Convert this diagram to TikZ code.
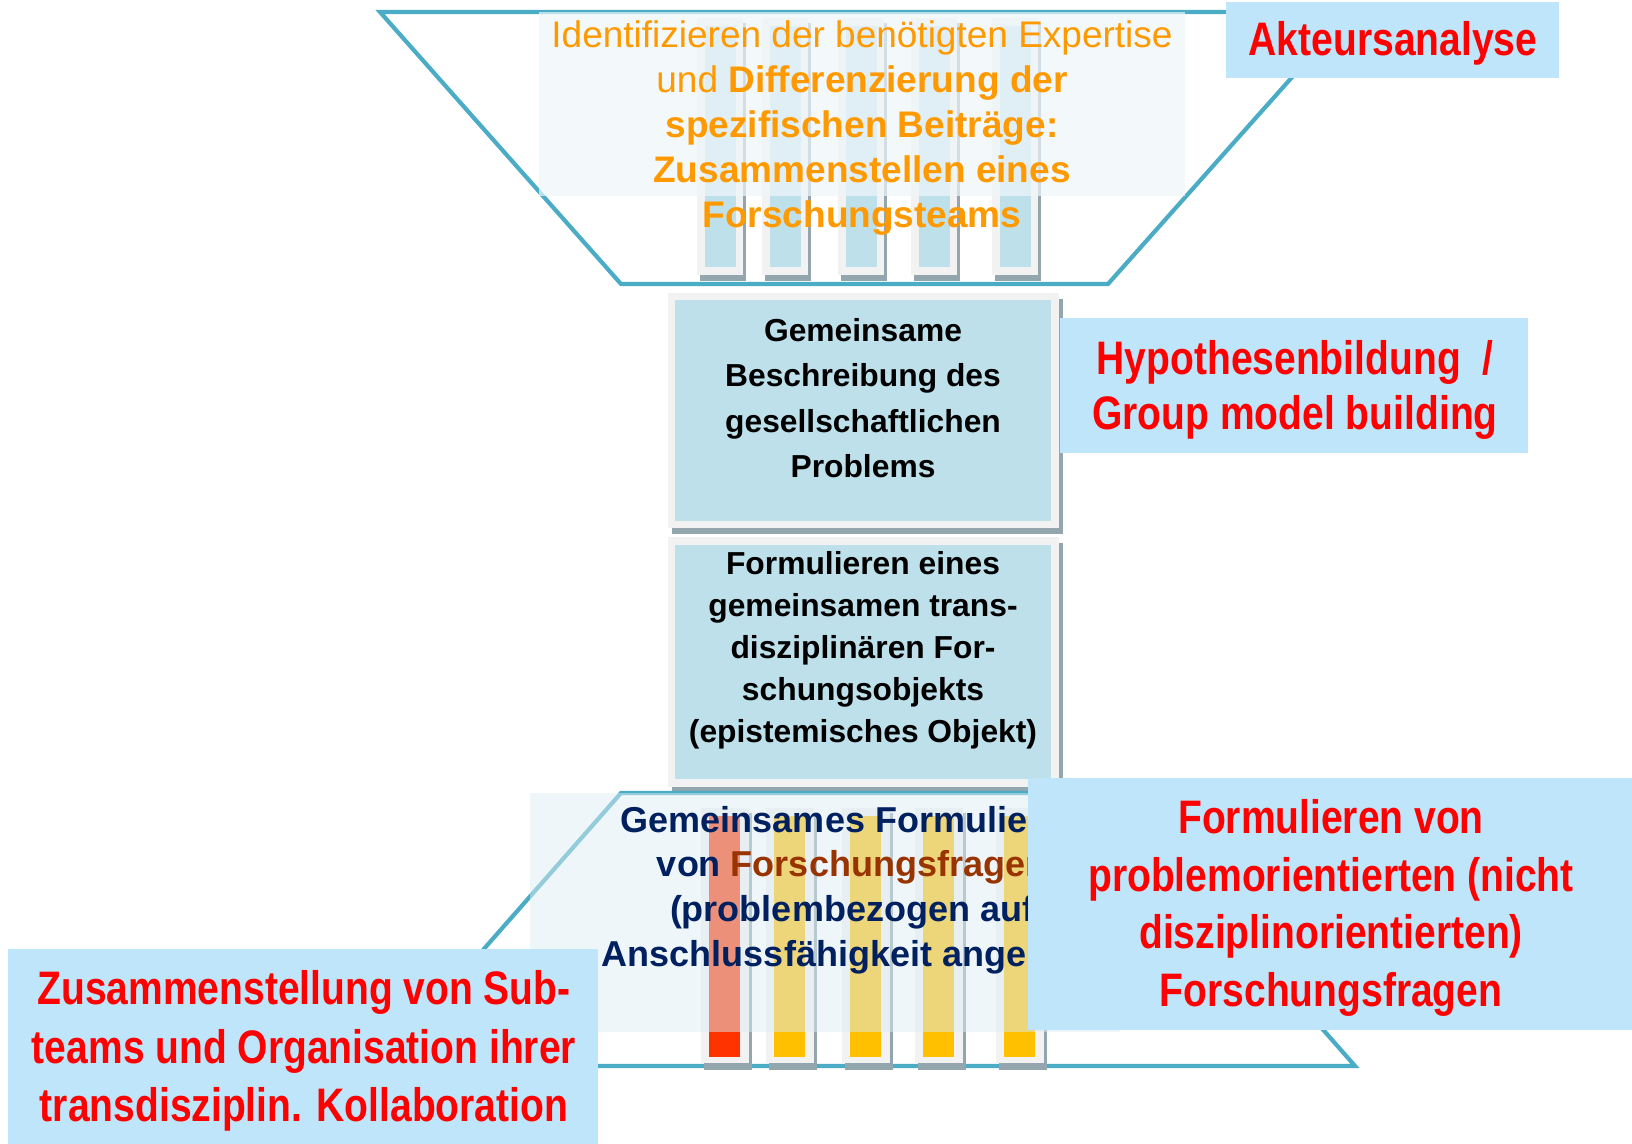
\documentclass[tikz,border=0pt]{standalone}
\usepackage{fontspec}
\setmainfont{Liberation Sans}
\newfontfamily\narrowfont[FakeStretch=0.83]{Liberation Sans}
\usepackage{xcolor}

\definecolor{funnelline}{RGB}{75,172,198}
\definecolor{barblue}{RGB}{189,224,234}
\definecolor{framegray}{RGB}{242,242,242}
\definecolor{shadowgray}{RGB}{147,166,174}
\definecolor{calloutblue}{RGB}{190,229,250}
\definecolor{teamorange}{RGB}{255,153,0}
\definecolor{questnavy}{RGB}{0,32,96}
\definecolor{questbrown}{RGB}{153,51,0}
\definecolor{barred}{RGB}{255,51,0}
\definecolor{baryellow}{RGB}{255,192,0}
\definecolor{veilwhite}{RGB}{238,246,250}
\definecolor{veilblue}{RGB}{221,237,243}

\begin{document}
\begin{tikzpicture}[x=0.5pt,y=-0.5pt,
  funnel/.style={line width=2.1pt, draw=funnelline},
  stagetext/.style={font=\bfseries\fontsize{15.9}{22.75}\selectfont, align=center, inner sep=0pt},
  callout/.style={fill=calloutblue},
  callouttext/.style={font=\narrowfont\bfseries\fontsize{23.5}{28.85}\selectfont, text=red, align=center, inner sep=0pt}]
\useasboundingbox (0,0) rectangle (1632,1144);

% Upper funnel
\draw [funnel] (380,12) -- (1350,12) -- (1108,284) -- (621,284) -- cycle;

% Team columns
\foreach \x in {697,762,838,911,992} {
  \fill [shadowgray] (\x+3,23) rectangle (\x+49,281);
  \fill [framegray] (\x,18) rectangle (\x+46,275);
  \fill [barblue] (\x+8,26) rectangle (\x+39,267);
}

% Veil and text
\fill [veilwhite, opacity=0.7] (539,12) rectangle (1185,196);
\node [font=\fontsize{18.5}{22.4}\selectfont, text=teamorange, align=center, inner sep=0pt] (expertise) at (862,128)
  {Identifizieren der benötigten Expertise\\ und \textbf{Differenzierung der}\\ \textbf{spezifischen Beiträge:}\\ \textbf{Zusammenstellen eines}\\ \textbf{Forschungsteams}};

% Middle stages
\fill [shadowgray] (672,299) rectangle (1063,534);
\fill [framegray] (668,293) rectangle (1059,528);
\fill [barblue] (675,300) rectangle (1051,521);
\fill [shadowgray] (672,543) rectangle (1063,793);
\fill [framegray] (668,537) rectangle (1059,787);
\fill [barblue] (675,545) rectangle (1051,779);

\node [stagetext] (problem) at (863,398) {Gemeinsame\\ Beschreibung des\\ gesellschaftlichen\\ Problems};
\node [stagetext, font=\bfseries\fontsize{15.9}{21}\selectfont] (object) at (863,650) {Formulieren eines\\ gemeinsamen trans-\\ disziplinären For-\\ schungsobjekts\\ (epistemisches Objekt)};

% Lower funnel
\draw [funnel] (621,793) -- (1115,793) -- (1355,1066) -- (381,1066) -- cycle;

% Subteam columns
\foreach \x/\c in {701/barred,766/baryellow,842/baryellow,915/baryellow,996/baryellow} {
  \fill [shadowgray] (\x+3,813) rectangle (\x+51,1070);
  \fill [framegray] (\x,808) rectangle (\x+48,1063);
  \fill [\c] (\x+8,816) rectangle (\x+39,1057);
}

% Veil and text
\fill [veilblue, opacity=0.5] (530,793) rectangle (1120,1032);
\node [font=\bfseries\fontsize{18}{22.4}\selectfont, text=questnavy, align=center, inner sep=0pt] (questions) at (852,890)
  {Gemeinsames Formulieren\\ von \textcolor{questbrown}{Forschungsfragen}\\ (problembezogen auf\\ Anschlussfähigkeit angelegt)};

% Callouts
\fill [callout] (1226,2) rectangle (1559,78);
\node [callouttext, anchor=base] (actors) at (1393,56) {Akteursanalyse};

\fill [callout] (1060,318) rectangle (1528,453);
\node [callouttext, font=\narrowfont\bfseries\fontsize{23.5}{27.5}\selectfont] (hypotheses) at (1295,390) {Hypothesenbildung\ \ /\\ Group model building};

\fill [callout] (1028,778) rectangle (1632,1030);
\node [callouttext] (problemorient) at (1331,908) {Formulieren von\\ problemorientierten (nicht\\ disziplinorientierten)\\ Forschungsfragen};

\fill [callout] (8,949) rectangle (598,1144);
\node [callouttext, font=\narrowfont\bfseries\fontsize{23.5}{29.15}\selectfont] (subteams) at (304,1051) {Zusammenstellung von Sub-\\ teams und Organisation ihrer\\ transdisziplin. Kollaboration};
\end{tikzpicture}
\end{document}
